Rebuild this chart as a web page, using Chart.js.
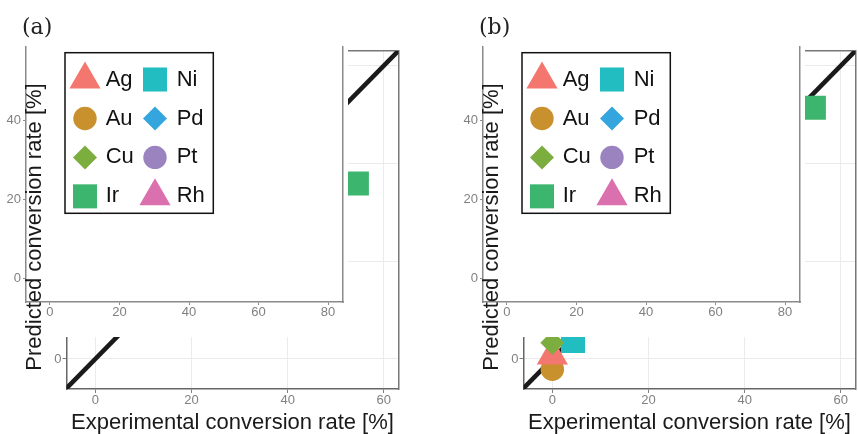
<!DOCTYPE html>
<html>
<head>
<meta charset="utf-8">
<script src="https://cdn.jsdelivr.net/npm/chart.js@4.4.1/dist/chart.umd.min.js"></script>
<style>
  body { margin: 0; background: #fff; }
  #wrap { position: relative; width: 858px; height: 434px; overflow: hidden; background: #fff; }
  .panel { position: absolute; top: 0; width: 401px; height: 434px; }
  .panel canvas { position: absolute; }
  .base { left: 0; top: 0; }
  .inset { left: 0; top: 46px; background: #fff; }
  .tag { position: absolute; left: 22px; top: 16px; font: 22px 'DejaVu Serif', serif; line-height: 1; color: #222; }
  .ytitle { position: absolute; left: 33.8px; top: 226.5px; transform: translate(-50%, -50%) rotate(-90deg);
            font: 22px 'Liberation Sans', Arial, sans-serif; line-height: 1; white-space: nowrap; color: #1a1a1a; }
</style>
</head>
<body>
<div id="wrap">
  <div class="panel" style="left:0">
    <canvas class="base" id="baseA" width="401" height="434"></canvas>
    <canvas class="inset" id="insetA" width="348" height="291"></canvas>
    <div class="tag">(a)</div>
    <div class="ytitle">Predicted conversion rate [%]</div>
  </div>
  <div class="panel" style="left:457px">
    <canvas class="base" id="baseB" width="401" height="434"></canvas>
    <canvas class="inset" id="insetB" width="348" height="291"></canvas>
    <div class="tag">(b)</div>
    <div class="ytitle">Predicted conversion rate [%]</div>
  </div>
</div>
<script>
const metals = ['Ag', 'Au', 'Cu', 'Ir', 'Ni', 'Pd', 'Pt', 'Rh'];
// only the points that can be seen in the figure (null = hidden)
const experimentalA = [null, null, null, 54.4, null, null, null, null];
const predictedA    = [null, null, null, 35.9, null, null, null, null];
const experimentalB = [0, 0, 0, 54.4, 4.3, null, null, null];
const predictedB    = [0.7, -2.1, 3.3, 51.4, 3.7, null, null, null];
const mainTicks = [0, 20, 40, 60];
const insetTicksX = [0, 20, 40, 60, 80];
const insetTicksY = [0, 20, 40];
const identityLine = [-10, 100];

const metalColors = ['#f3776f', '#c9912e', '#7bae3f', '#3cb66e', '#22bdc1', '#35a5de', '#9b83bf', '#da71ae'];
const metalShapes = ['triangle', 'circle', 'rectRot', 'rect', 'rect', 'rectRot', 'circle', 'triangle'];
const shapeRadius = { triangle: 18, circle: 11.7, rectRot: 12, rect: 17 };
const drawOrder = [2, 4, 1, 5, 3, 6, 6, 6];

const FONT = "'Liberation Sans', Arial, sans-serif";
Chart.defaults.font.family = FONT;

const drawShape = (Chart.helpers && Chart.helpers.drawPoint) || function (ctx, o, x, y) {
  const r = o.radius;
  ctx.beginPath();
  if (o.pointStyle === 'triangle') {
    ctx.moveTo(x, y - r); ctx.lineTo(x + 0.866 * r, y + 0.5 * r); ctx.lineTo(x - 0.866 * r, y + 0.5 * r);
  } else if (o.pointStyle === 'rect') {
    const s = Math.SQRT1_2 * r; ctx.rect(x - s, y - s, 2 * s, 2 * s);
  } else if (o.pointStyle === 'rectRot') {
    ctx.moveTo(x - r, y); ctx.lineTo(x, y - r); ctx.lineTo(x + r, y); ctx.lineTo(x, y + r);
  } else {
    ctx.arc(x, y, r, 0, Math.PI * 2);
  }
  ctx.closePath();
  ctx.fill();
};

// legend drawn inside the inset panel, two columns
const legendBox = {
  id: 'legendBox',
  afterDraw(chart) {
    const ctx = chart.ctx;
    ctx.save();
    ctx.lineWidth = 1.5;
    ctx.strokeStyle = '#111';
    ctx.strokeRect(65, 6.7, 148.3, 160.6);
    ctx.font = '22px ' + FONT;
    ctx.textBaseline = 'middle';
    ctx.textAlign = 'left';
    metals.forEach((m, i) => {
      const col = Math.floor(i / 4), row = i % 4;
      const y = 33.5 + row * 38.95;
      const sx = col ? 155 : 85;
      ctx.fillStyle = metalColors[i];
      drawShape(ctx, { pointStyle: metalShapes[i], radius: shapeRadius[metalShapes[i]], rotation: 0, borderWidth: 0 }, sx, y);
      ctx.fillStyle = '#111';
      ctx.fillText(m, col ? 176.7 : 105.7, y);
    });
    ctx.restore();
  }
};

function setTicks(list) {
  return s => { s.ticks = list.map(v => ({ value: v })); };
}

// fixed axis size, no extra room for overhanging labels
function fixSize(size) {
  return s => {
    if (s.isHorizontal()) s.height = size; else s.width = size;
    s.paddingLeft = s.paddingRight = s.paddingTop = s.paddingBottom = 0;
  };
}

function edgeAxis(position, min, max, color, size) {
  return {
    type: 'linear', position, min, max,
    ticks: { display: false },
    grid: { display: false },
    border: { color, width: 1.5 },
    afterFit: fixSize(size)
  };
}

function makeBase(id, xs, ys) {
  const datasets = metals.map((m, i) => ({
    label: m,
    data: xs[i] === null ? [] : [{ x: xs[i], y: ys[i] }],
    pointStyle: metalShapes[i],
    pointRadius: shapeRadius[metalShapes[i]],
    pointBackgroundColor: metalColors[i],
    backgroundColor: metalColors[i],
    pointBorderWidth: 0,
    order: drawOrder[i]
  }));
  datasets.push({
    label: 'y = x',
    data: identityLine.map(v => ({ x: v, y: v })),
    showLine: true,
    borderColor: '#1a1a1a',
    borderWidth: 4.5,
    pointRadius: 0,
    order: 10
  });
  const axisGrid = { color: '#ebebeb', lineWidth: 1, tickColor: '#808080', tickLength: 4 };
  const tickFont = { color: '#808080', font: { size: 13 }, maxRotation: 0 };
  new Chart(document.getElementById(id), {
    type: 'scatter',
    data: { datasets },
    options: {
      responsive: false, animation: false, devicePixelRatio: 1,
      layout: { autoPadding: false, padding: { top: 51, right: 2.5, left: 0, bottom: 0 } },
      plugins: { legend: { display: false }, tooltip: { enabled: false } },
      scales: {
        x: {
          type: 'linear', position: 'bottom', min: -6.0, max: 63.06,
          afterBuildTicks: setTicks(mainTicks),
          afterFit: fixSize(45),
          grid: axisGrid,
          border: { color: '#666', width: 1.5 },
          ticks: Object.assign({ padding: 0 }, tickFont),
          title: { display: true, text: 'Experimental conversion rate [%]', color: '#1a1a1a',
                   font: { size: 22, lineHeight: 1 }, padding: 0 }
        },
        y: {
          type: 'linear', position: 'left', min: -6.14, max: 63.0,
          afterBuildTicks: setTicks(mainTicks),
          afterFit: fixSize(66.5),
          grid: axisGrid,
          border: { color: '#666', width: 1.5 },
          ticks: Object.assign({ padding: 1 }, tickFont)
        },
        x2: edgeAxis('top', -6.0, 63.06, '#777', 0),
        y2: edgeAxis('right', -6.14, 63.0, '#777', 0)
      }
    }
  });
}

function makeInset(id) {
  const grid = { drawOnChartArea: false, tickLength: 3, tickColor: '#8a8a8a' };
  const tickFont = { color: '#808080', font: { size: 13 }, maxRotation: 0 };
  new Chart(document.getElementById(id), {
    type: 'scatter',
    data: { datasets: [] },
    options: {
      responsive: false, animation: false, devicePixelRatio: 1,
      layout: { autoPadding: false, padding: 0 },
      plugins: { legend: { display: false }, tooltip: { enabled: false } },
      scales: {
        x: {
          type: 'linear', position: 'bottom', min: -6.9, max: 84.3,
          afterBuildTicks: setTicks(insetTicksX),
          afterFit: fixSize(35),
          grid, border: { color: '#8a8a8a', width: 1.5 },
          ticks: Object.assign({ padding: 0 }, tickFont)
        },
        y: {
          type: 'linear', position: 'left', min: -6.1, max: 59,
          afterBuildTicks: setTicks(insetTicksY),
          afterFit: fixSize(26),
          grid, border: { color: '#8a8a8a', width: 1.5 },
          ticks: Object.assign({ padding: 2 }, tickFont)
        },
        y2: edgeAxis('right', -6.1, 59, '#8a8a8a', 5)
      }
    },
    plugins: [legendBox]
  });
}

makeBase('baseA', experimentalA, predictedA);
makeBase('baseB', experimentalB, predictedB);
makeInset('insetA');
makeInset('insetB');
</script>
</body>
</html>
